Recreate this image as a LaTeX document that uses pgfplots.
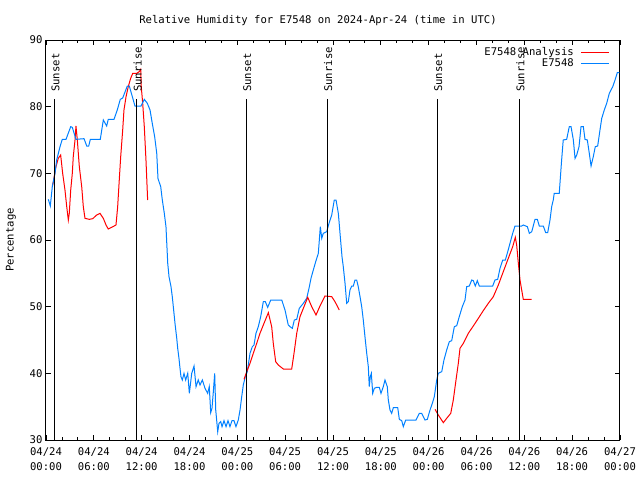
\documentclass[border=0pt]{standalone}
\usepackage{pgfplots}
\pgfplotsset{compat=1.18}
\usepackage{fontspec}
\setmainfont{DejaVu Sans Mono}
\definecolor{anared}{RGB}{255,0,0}
\definecolor{obsblue}{RGB}{0,128,255}
\newcommand{\gfont}{\fontsize{10.6}{13}\selectfont}
\newcommand{\xfont}{\fontsize{10.6}{15}\selectfont}

\begin{document}
\begin{tikzpicture}
\useasboundingbox (-46pt,-40pt) rectangle (594pt,440pt);
\begin{axis}[
  scale only axis, width=574pt, height=400pt,
  xmin=0, xmax=72, ymin=30, ymax=90,
  xtick={0,6,...,72}, minor x tick num=2,
  ytick={30,40,...,90},
  xticklabels={{04/24\\00:00},{04/24\\06:00},{04/24\\12:00},{04/24\\18:00},
               {04/25\\00:00},{04/25\\06:00},{04/25\\12:00},{04/25\\18:00},
               {04/26\\00:00},{04/26\\06:00},{04/26\\12:00},{04/26\\18:00},
               {04/27\\00:00}},
  xticklabel style={align=center, font=\xfont, yshift=-4pt},
  yticklabel style={font=\gfont},
  /pgf/number format/assume math mode=true,
  tick align=inside, major tick length=5pt, minor tick length=3pt,
  tick style={black, line width=0.8pt},
  axis line style={line width=1pt},
  legend style={at={(rel axis cs:1,1)}, anchor=north east, xshift=-7pt, yshift=-3pt,
    draw=none, fill=none, font=\gfont, row sep=-2pt},
  legend cell align=right, legend plot pos=right,
  legend image code/.code={\path (0pt,0pt); \draw[#1] (5pt,0pt) -- (33pt,0pt);},
]
% analysis, part 1
\addplot[anared, line width=1pt] coordinates {
(0.79,68) (0.92,68.75) (1.25,71) (1.54,72.25) (1.84,72.75) (2.09,70) (2.38,67.5)
(2.60,65) (2.80,63) (2.92,64) (3.10,67.5) (3.30,70) (3.42,72.5) (3.64,75) (3.76,77.1)
(3.93,75) (4.18,71) (4.48,68) (4.68,65) (4.89,63.25) (5.43,63.1) (5.86,63.2)
(6.36,63.75) (6.77,64) (7.19,63.25) (7.53,62.25) (7.81,61.65) (8.24,61.9) (8.78,62.25)
(8.99,65) (9.19,69) (9.37,72.5) (9.62,76.5) (9.78,79.5) (10.04,81.5) (10.32,83)
(10.62,84.25) (10.88,85) (11.38,85) (11.70,85.25) (11.88,85.6) (11.95,83) (12.13,80.5)
(12.33,77) (12.54,72) (12.75,66)
};
\addlegendentry{E7548 Analysis}
\addplot[obsblue, line width=1pt] coordinates {
(0.29,66.1) (0.54,65.1) (0.79,68) (1.13,70) (1.34,72) (1.76,74) (2.04,75.1) (2.51,75.1)
(3.10,77) (3.30,76.9) (3.76,75.1) (4.77,75.2) (5.11,74.1) (5.36,74.1) (5.56,75.1)
(6.81,75.1) (7.19,78) (7.61,77.1) (7.81,78.1) (8.53,78.1) (8.94,79.5) (9.32,81.1)
(9.62,81.3) (9.91,82.2) (10.20,83.1) (10.45,83.1) (11.16,80.1) (11.92,80.1) (12.33,81.1)
(12.71,80.5) (13.05,79.5) (13.33,77.5) (13.63,75.5) (13.89,73) (14.05,69.2) (14.39,68)
(14.59,66) (14.84,64) (15.05,62) (15.14,59.75) (15.27,56.5) (15.43,54.5) (15.68,53)
(15.84,51.5) (15.97,50) (16.18,47.5) (16.40,45.25) (16.52,43.75) (16.68,42.25)
(16.81,40.75) (16.93,39.5) (17.10,39) (17.31,40) (17.52,39) (17.78,40) (17.98,37)
(18.28,40) (18.57,41.1) (18.82,38) (19.10,39) (19.32,38.25) (19.61,39) (19.95,37.75)
(20.28,37) (20.48,38) (20.66,34.1) (20.82,34.75) (20.99,37.25) (21.16,40) (21.29,34.5)
(21.54,31.25) (21.70,32.5) (21.92,32.75) (22.08,32) (22.33,32.9) (22.58,32) (22.83,32.9)
(23.08,32) (23.33,32.9) (23.58,32.9) (23.83,32) (24.12,33) (24.34,34.5) (24.55,36.5)
(24.75,38.25) (25.00,39.5) (25.25,40.25) (25.59,43) (25.88,44) (26.09,44.25) (26.34,46)
(26.63,47) (26.93,48.5) (27.26,50.75) (27.51,50.75) (27.81,49.9) (28.19,51) (29.57,51)
(29.98,49.5) (30.39,47.25) (30.61,47) (30.90,46.75) (31.15,48) (31.45,48.1) (31.77,49.75)
(32.28,50.5) (32.70,51.25) (32.99,52.75) (33.24,54.25) (33.53,55.5) (33.83,56.75)
(34.16,58) (34.41,62) (34.59,60.25) (34.78,61) (35.21,61.25) (35.50,62.5) (35.84,63.75)
(36.16,66) (36.38,66) (36.67,64) (36.88,61) (37.13,57.5) (37.29,56) (37.51,53.5)
(37.72,50.5) (37.92,50.75) (38.13,52.5) (38.35,53.1) (38.55,53.1) (38.76,54) (38.97,54)
(39.17,53) (39.39,51.5) (39.60,50) (39.80,48) (40.01,45.5) (40.23,43) (40.43,41)
(40.55,38) (40.68,39.5) (40.81,40) (40.98,37) (41.18,37.75) (41.48,37.9) (41.81,37.9)
(42.02,37) (42.31,38) (42.52,39) (42.81,38) (42.94,36) (43.15,34.5) (43.36,34)
(43.57,34.85) (44.12,34.85) (44.32,33.1) (44.62,32.9) (44.82,32) (45.12,33) (46.41,33)
(46.83,34) (47.13,34) (47.54,33) (47.83,33.1) (48.17,34.5) (48.46,35.5) (48.71,36.5)
(49.01,39) (49.21,40) (49.64,40.25) (49.92,42) (50.26,43.5) (50.59,44.75) (50.89,44.9)
(51.22,47) (51.52,47.15) (51.84,48.5) (52.22,50) (52.56,51) (52.77,53) (53.10,53.1)
(53.40,54) (53.60,53.9) (53.85,53.1) (54.10,53.9) (54.35,53.1) (56.03,53.1) (56.32,54)
(56.66,54.1) (56.95,55.75) (57.29,57) (57.62,57) (57.92,58.25) (58.20,59.5) (58.54,61)
(58.83,62.1) (59.67,62.1) (59.87,62.25) (60.38,62) (60.63,61) (60.93,61.25) (61.34,63.1)
(61.63,63.1) (61.88,62.1) (62.38,62.1) (62.68,61.1) (62.93,61.1) (63.22,63) (63.43,65)
(63.63,66) (63.75,67) (64.38,67) (64.56,70) (64.68,72) (64.88,75) (65.31,75.1)
(65.64,77) (65.86,77) (66.15,75) (66.36,72.25) (66.57,72.75) (66.86,74) (67.11,77)
(67.40,77) (67.61,75.1) (67.90,75) (68.15,73) (68.37,71.1) (68.65,72.5) (68.90,74)
(69.20,74.1) (69.49,76.5) (69.71,78.25) (70.03,79.5) (70.33,80.5) (70.66,82) (71.09,83)
(71.38,84) (71.66,85.1) (71.92,85.1)
};
\addlegendentry{E7548}
% analysis, parts 2 and 3
\addplot[anared, line width=1pt, forget plot] coordinates {
(24.84,39.1) (25.18,40.25) (25.59,41.5) (26.00,43) (26.43,44.5) (26.84,46) (27.26,47.25)
(27.89,49.1) (28.31,47) (28.51,44.5) (28.81,41.75) (29.14,41.25) (29.77,40.65)
(30.82,40.65) (31.11,43) (31.45,46) (31.86,48.5) (32.28,49.75) (32.83,51.4) (33.33,50)
(33.87,48.75) (34.37,50.1) (35.00,51.6) (35.84,51.5) (36.25,50.75) (36.79,49.5)
};
\addplot[anared, line width=1pt, forget plot] coordinates {
(48.80,34.6) (49.21,33.75) (49.84,32.6) (50.26,33.25) (50.77,34) (51.09,36) (51.43,39)
(51.72,41.5) (51.93,43.75) (52.35,44.5) (52.97,46) (53.60,47.1) (54.23,48.25)
(54.85,49.4) (55.48,50.5) (56.11,51.5) (56.74,53.25) (57.36,55.25) (57.99,57.25)
(58.54,59) (58.87,60.4) (59.04,59.25) (59.25,56.5) (59.46,54) (59.67,52.5) (59.87,51.1)
(60.93,51.1)
};
% sunrise / sunset markers
\addplot[black, line width=1pt, forget plot] coordinates {(1.04,30) (1.04,81.15)};
\addplot[black, line width=1pt, forget plot] coordinates {(11.33,30) (11.33,81.15)};
\addplot[black, line width=1pt, forget plot] coordinates {(25.09,30) (25.09,81.15)};
\addplot[black, line width=1pt, forget plot] coordinates {(35.25,30) (35.25,81.15)};
\addplot[black, line width=1pt, forget plot] coordinates {(49.05,30) (49.05,81.15)};
\addplot[black, line width=1pt, forget plot] coordinates {(59.37,30) (59.37,81.15)};
\node[rotate=90, anchor=west, font=\gfont, inner sep=0pt] at (axis cs:1.2,82.2) {Sunset};
\node[rotate=90, anchor=west, font=\gfont, inner sep=0pt] at (axis cs:11.5,82.2) {Sunrise};
\node[rotate=90, anchor=west, font=\gfont, inner sep=0pt] at (axis cs:25.25,82.2) {Sunset};
\node[rotate=90, anchor=west, font=\gfont, inner sep=0pt] at (axis cs:35.4,82.2) {Sunrise};
\node[rotate=90, anchor=west, font=\gfont, inner sep=0pt] at (axis cs:49.2,82.2) {Sunset};
\node[rotate=90, anchor=west, font=\gfont, inner sep=0pt] at (axis cs:59.5,82.2) {Sunrise};
\end{axis}
\node[font=\gfont] at (272pt,419pt) {Relative Humidity for E7548 on 2024-Apr-24 (time in UTC)};
\node[font=\gfont, rotate=90] at (-35pt,200pt) {Percentage};
\end{tikzpicture}
\end{document}
